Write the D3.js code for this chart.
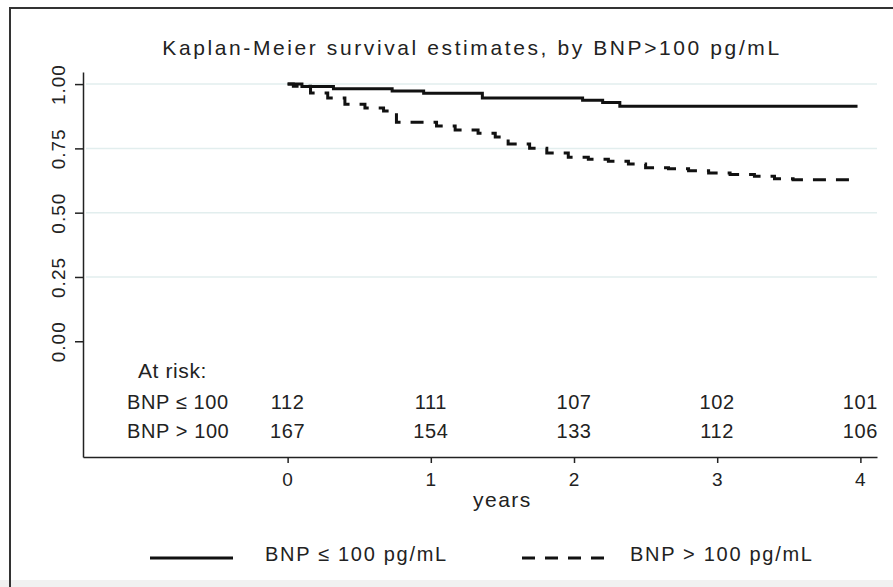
<!DOCTYPE html>
<html>
<head>
<meta charset="utf-8">
<script src="https://cdn.jsdelivr.net/npm/d3@7"></script>
<style>
html, body { margin: 0; background: #fff; overflow: hidden; }
svg { display: block; }
</style>
</head>
<body>
<script>
// Kaplan-Meier, by BNP>100 pg/mL
var title = "Kaplan-Meier survival estimates, by BNP>100 pg/mL" ;

var yTicks = [0, 0.25, 0.5, 0.75, 1] ;
var yGrid = [0.25, 0.5, 0.75, 1] ;
var xTicks = [0, 1, 2, 3, 4] ;

// BNP <= 100
var lowTimes = [0, 0.10, 0.32, 0.73, 0.95, 1.36, 2.06, 2.20, 2.32, 3.98] ;
var lowSurv  = [1, 0.991, 0.982, 0.973, 0.964, 0.946, 0.937, 0.928, 0.914, 0.914] ;

// BNP > 100
var highTimes = [0, 0.04, 0.16, 0.28, 0.40, 0.54, 0.67, 0.76, 1.04, 1.17, 1.33, 1.45, 1.54, 1.69, 1.81, 1.96, 2.10, 2.24, 2.38, 2.50, 2.66, 2.80, 2.94, 3.09, 3.26, 3.40, 3.53, 3.98] ;
var highSurv  = [1, 0.992, 0.965, 0.946, 0.922, 0.907, 0.895, 0.852, 0.837, 0.821, 0.809, 0.794, 0.767, 0.751, 0.732, 0.716, 0.708, 0.700, 0.689, 0.675, 0.671, 0.663, 0.654, 0.648, 0.642, 0.632, 0.628, 0.628] ;

// numbers at risk
var riskTimes = [0, 1, 2, 3, 4] ;
var riskLow  = [112, 111, 107, 102, 101] ;
var riskHigh = [167, 154, 133, 112, 106] ;
var groupLabels = ["BNP \u2264 100", "BNP > 100"] ;
var legendLabels = ["BNP \u2264 100 pg/mL", "BNP > 100 pg/mL"] ;

var width = 893, height = 587 ;
var fontFamily = "'Liberation Sans', Arial, sans-serif" ;
var dash = "13,10" ;

function main()
{
    var svg = d3.select("body").append("svg")
	.attr("width", width)
	.attr("height", height) ;

    //grey strip at the bottom and the frame
    svg.append("rect")
	.attr("x", 0).attr("y", 580)
	.attr("width", width).attr("height", height-580)
	.attr("fill", "#f1f1f1") ;

    svg.append("line")
	.attr("x1", 10).attr("x2", 10)
	.attr("y1", 8).attr("y2", height)
	.attr("stroke", "#333")
	.attr("stroke-width", 2) ;

    svg.append("line")
	.attr("x1", 9).attr("x2", width)
	.attr("y1", 8).attr("y2", 8)
	.attr("stroke", "#333")
	.attr("stroke-width", 2) ;

    // axes: x(0) ~ 288, about 143 px per year ; y(0) = 341, y(1) = 84
    var x = d3.scaleLinear().domain([-1.429, 4.116]).range([83, 877]) ;
    var y = d3.scaleLinear().domain([-0.45, 1.047]).range([457, 72]) ;

    //grid
    svg.append("g").selectAll("line")
	.data(yGrid)
	.enter().append("line")
	.attr("x1", 86).attr("x2", 877)
	.attr("y1", function(d) { return y(d) ; })
	.attr("y2", function(d) { return y(d) ; })
	.attr("stroke", "#e2eeee")
	.attr("stroke-width", 1.5) ;

    var gy = svg.append("g")
	.attr("transform", "translate(83,0)")
	.call(d3.axisLeft(y).tickValues(yTicks).tickSize(8).tickSizeOuter(0)
	      .tickFormat(d3.format(".2f"))) ;

    gy.selectAll("text")
	.attr("transform", "rotate(-90)")
	.attr("x", 0)
	.attr("y", -18)
	.attr("dy", 0)
	.attr("text-anchor", "middle") ;

    var gx = svg.append("g")
	.attr("transform", "translate(0,457)")
	.call(d3.axisBottom(x).tickValues(xTicks).tickSize(6).tickSizeOuter(0)
	      .tickFormat(d3.format("d"))) ;

    gx.selectAll("text").attr("y", 16) ;

    [gx, gy].forEach(function(g) {
	g.attr("font-size", null).attr("font-family", null) ;
	g.selectAll("path, line").attr("stroke", "#222").attr("stroke-width", 1.5) ;
	g.selectAll("text")
	    .attr("font-family", fontFamily)
	    .attr("font-size", "19px")
	    .attr("letter-spacing", "1px")
	    .attr("fill", "#222") ;
    }) ;

    //survival curves
    var line = d3.line()
	.x(function(d) { return x(d[0]) ; })
	.y(function(d) { return y(d[1]) ; })
	.curve(d3.curveStepAfter) ;

    svg.append("path")
	.datum(d3.zip(lowTimes, lowSurv))
	.attr("d", line)
	.attr("fill", "none")
	.attr("stroke", "#111")
	.attr("stroke-width", 3) ;

    svg.append("path")
	.datum(d3.zip(highTimes, highSurv))
	.attr("d", line)
	.attr("fill", "none")
	.attr("stroke", "#111")
	.attr("stroke-width", 3)
	.attr("stroke-dasharray", dash) ;

    //title
    svg.append("text")
	.attr("x", 472)
	.attr("y", 55)
	.attr("font-family", fontFamily)
	.attr("font-size", "21px")
	.attr("letter-spacing", "2.6px")
	.attr("text-anchor", "middle")
	.attr("fill", "#222")
	.text(title) ;

    //at risk table
    var tableStyle = function(sel) {
	sel.attr("font-family", fontFamily)
	    .attr("font-size", "20px")
	    .attr("letter-spacing", "0.6px")
	    .attr("fill", "#222") ;
    } ;

    svg.append("text")
	.attr("x", 138).attr("y", 378)
	.call(tableStyle)
	.attr("font-size", "21px")
	.text("At risk:") ;

    var rows = [riskLow, riskHigh] ;
    var rowY = [409, 438] ;

    rows.forEach(function(r, i) {
	svg.append("text")
	    .attr("x", 127).attr("y", rowY[i])
	    .call(tableStyle)
	    .text(groupLabels[i]) ;

	svg.append("g").selectAll("text")
	    .data(d3.zip(riskTimes, r))
	    .enter().append("text")
	    .attr("x", function(d) { return x(d[0]) ; })
	    .attr("y", rowY[i])
	    .attr("text-anchor", "middle")
	    .call(tableStyle)
	    .text(function(d) { return d[1] ; }) ;
    }) ;

    svg.append("text")
	.attr("x", (x(1) + x(2))/2)
	.attr("y", 507)
	.attr("text-anchor", "middle")
	.attr("font-family", fontFamily)
	.attr("font-size", "21px")
	.attr("letter-spacing", "1.5px")
	.attr("fill", "#222")
	.text("years") ;

    //legend
    var legX = [150, 522] ;
    var legTextX = [265, 630] ;
    legendLabels.forEach(function(lab, i) {
	var l = svg.append("line")
	    .attr("x1", legX[i]).attr("x2", legX[i] + 83)
	    .attr("y1", 558).attr("y2", 558)
	    .attr("stroke", "#111")
	    .attr("stroke-width", 3) ;
	if(i == 1)
	    l.attr("stroke-dasharray", dash) ;

	svg.append("text")
	    .attr("x", legTextX[i])
	    .attr("y", 561)
	    .attr("font-family", fontFamily)
	    .attr("font-size", "20px")
	    .attr("letter-spacing", "1.7px")
	    .attr("fill", "#222")
	    .text(lab) ;
    }) ;
}

main() ;
</script>
</body>
</html>
